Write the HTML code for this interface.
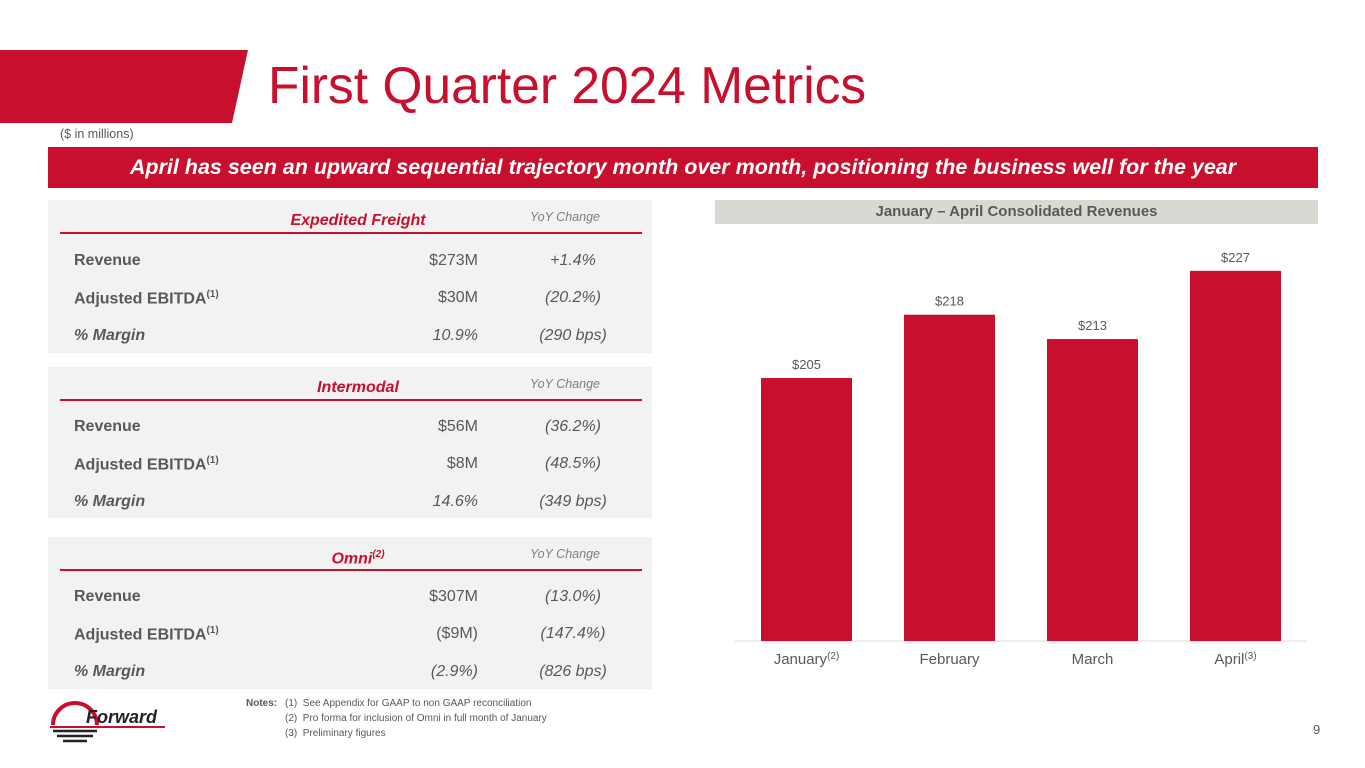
<!DOCTYPE html>
<html><head><meta charset="utf-8"><style>
body{margin:0;width:1365px;height:768px;background:#fff;position:relative;overflow:hidden;font-family:"Liberation Sans",sans-serif;color:#595959}
.abs{position:absolute}
.panel{position:absolute;left:48px;width:604px;background:#f2f2f2}
.ph{position:absolute;left:0;width:100%;top:0;height:33px}
.ph .t{position:absolute;left:0;width:100%;top:12px;text-align:center;color:#c8102e;font-weight:bold;font-style:italic;font-size:16px;padding-left:16px;box-sizing:border-box}
.ph .y{position:absolute;left:482px;top:10px;font-style:italic;font-size:12.5px;color:#7f7f7f}
.ph .ln{position:absolute;left:12px;right:10px;top:32px;height:2px;background:#c8102e}
.row{position:absolute;left:0;width:100%;height:20px;font-size:16px}
.row .l{position:absolute;left:26px;font-weight:bold}
.row .v{position:absolute;right:174px}
.row .c{position:absolute;left:470px;width:110px;text-align:center;font-style:italic}
sup{font-size:10px}
</style></head><body>
<svg class="abs" style="left:0;top:50px" width="250" height="73"><polygon points="0,0 248,0 232,73 0,73" fill="#c8102e"/></svg>
<div class="abs" style="left:268px;top:55px;font-size:51.5px;color:#c8102e">First Quarter 2024 Metrics</div>
<div class="abs" style="left:60px;top:127px;font-size:12.5px">($ in millions)</div>
<div class="abs" style="left:48px;top:147px;width:1270px;height:41px;background:#c8102e;color:#fff;font-weight:bold;font-style:italic;font-size:21.5px;text-align:center;line-height:41px">April has seen an upward sequential trajectory month over month, positioning the business well for the year</div>

<div class="panel" style="top:200px;height:153px">
<div class="ph"><div class="t">Expedited Freight</div><div class="y">YoY Change</div><div class="ln"></div></div>
<div class="row" style="top:52px"><span class="l">Revenue</span><span class="v">$273M</span><span class="c">+1.4%</span></div>
<div class="row" style="top:89px"><span class="l">Adjusted EBITDA<sup>(1)</sup></span><span class="v">$30M</span><span class="c">(20.2%)</span></div>
<div class="row" style="top:127px"><span class="l" style="font-style:italic">% Margin</span><span class="v" style="font-style:italic">10.9%</span><span class="c">(290 bps)</span></div>
</div>
<div class="panel" style="top:367px;height:151px">
<div class="ph"><div class="t">Intermodal</div><div class="y">YoY Change</div><div class="ln"></div></div>
<div class="row" style="top:51px"><span class="l">Revenue</span><span class="v">$56M</span><span class="c">(36.2%)</span></div>
<div class="row" style="top:88px"><span class="l">Adjusted EBITDA<sup>(1)</sup></span><span class="v">$8M</span><span class="c">(48.5%)</span></div>
<div class="row" style="top:126px"><span class="l" style="font-style:italic">% Margin</span><span class="v" style="font-style:italic">14.6%</span><span class="c">(349 bps)</span></div>
</div>
<div class="panel" style="top:537px;height:152px">
<div class="ph"><div class="t">Omni<sup>(2)</sup></div><div class="y">YoY Change</div><div class="ln"></div></div>
<div class="row" style="top:51px"><span class="l">Revenue</span><span class="v">$307M</span><span class="c">(13.0%)</span></div>
<div class="row" style="top:88px"><span class="l">Adjusted EBITDA<sup>(1)</sup></span><span class="v">($9M)</span><span class="c">(147.4%)</span></div>
<div class="row" style="top:126px"><span class="l" style="font-style:italic">% Margin</span><span class="v" style="font-style:italic">(2.9%)</span><span class="c">(826 bps)</span></div>
</div>

<div class="abs" style="left:715px;top:200px;width:603px;height:24px;background:#d9d9d3;text-align:center;font-weight:bold;font-size:15px;line-height:24px">January – April Consolidated Revenues</div>
<svg class="abs" id="chart" style="left:0;top:0" width="1365" height="768"></svg>

<svg class="abs" style="left:50px;top:700px" width="120" height="45">
<path d="M3,25 A22,22 0 0 1 47,25" fill="none" stroke="#c8102e" stroke-width="4"/>
<line x1="0" y1="27" x2="115" y2="27" stroke="#c8102e" stroke-width="2"/>
<line x1="3" y1="31" x2="47" y2="31" stroke="#222" stroke-width="2.5"/>
<line x1="7" y1="36" x2="43" y2="36" stroke="#222" stroke-width="2.5"/>
<line x1="13" y1="41" x2="37" y2="41" stroke="#222" stroke-width="2.5"/>
<text x="36" y="23" font-family="Liberation Sans" font-weight="bold" font-style="italic" font-size="18" fill="#222">Forward</text>
</svg>
<div class="abs" style="left:246px;top:696px;font-size:10px;line-height:15px;color:#595959">
<span style="position:absolute;left:0;font-weight:bold">Notes:</span>
<div style="position:absolute;left:39px;white-space:nowrap">(1)&nbsp; See Appendix for GAAP to non GAAP reconciliation<br>(2)&nbsp; Pro forma for inclusion of Omni in full month of January<br>(3)&nbsp; Preliminary figures</div></div>
<div class="abs" style="left:1313px;top:722px;font-size:13px">9</div>

<script>
const categories=["January","February","March","April"];
const sups=["(2)","","","(3)"];
const values=[205,218,213,227];
const labels=["$205","$218","$213","$227"];
const NS="http://www.w3.org/2000/svg";
const svg=document.getElementById('chart');
const base=641,vmin=151,k=4.87,x0=735,band=143,bw=91;
const y=v=>base-(v-vmin)*k;
const xc=i=>x0+band*(i+0.5);
const ax=document.createElementNS(NS,'line');


ax.setAttribute('x1',x0);ax.setAttribute('x2',x0+band*4);ax.setAttribute('y1',base);ax.setAttribute('y2',base);ax.setAttribute('stroke','#d9d9d9');
svg.appendChild(ax);
values.forEach((v,i)=>{
 const r=document.createElementNS(NS,'rect');
 
 
 r.setAttribute('x',xc(i)-bw/2);r.setAttribute('y',y(v));r.setAttribute('width',bw);r.setAttribute('height',base-y(v));r.setAttribute('fill','#c8102e');
 svg.appendChild(r);
 const t=document.createElementNS(NS,'text');
 
 
 t.setAttribute('x',xc(i));t.setAttribute('y',y(v)-9);t.setAttribute('text-anchor','middle');t.setAttribute('font-size','13');t.setAttribute('fill','#595959');t.setAttribute('font-family','Liberation Sans');
 t.textContent=labels[i];svg.appendChild(t);
 const c=document.createElementNS(NS,'text');
 
 
 c.setAttribute('x',xc(i));c.setAttribute('y',664);c.setAttribute('text-anchor','middle');c.setAttribute('font-size','15');c.setAttribute('fill','#595959');c.setAttribute('font-family','Liberation Sans');
 c.textContent=categories[i];
 if(sups[i]){const s=document.createElementNS(NS,'tspan');s.setAttribute('font-size','10');s.setAttribute('dy','-5');s.textContent=sups[i];c.appendChild(s);}
 svg.appendChild(c);
});
</script>
</body></html>
